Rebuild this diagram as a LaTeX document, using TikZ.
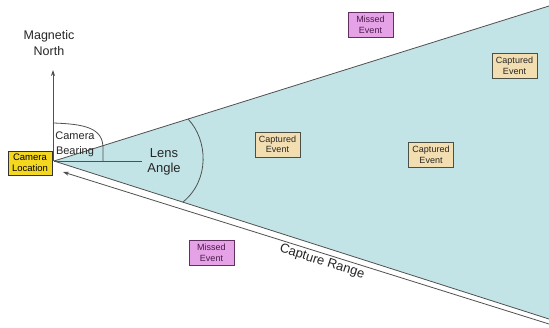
\documentclass[tikz,border=0pt]{standalone}
\usepackage{fontspec}
\setmainfont{Liberation Sans}
\usetikzlibrary{arrows.meta}
\definecolor{conefill}{HTML}{C3E4E6}
\definecolor{captfill}{HTML}{F2DEB0}
\definecolor{captedge}{HTML}{4A5046}
\definecolor{missfill}{HTML}{E6A2E6}
\definecolor{missedge}{HTML}{603060}
\definecolor{misstext}{HTML}{4A1A4A}
\definecolor{locfill}{HTML}{F4D820}
\definecolor{edgegray}{HTML}{505050}
\tikzset{
  evtbox/.style={draw=#1, line width=0.9pt, minimum width=45pt, minimum height=25pt,
    inner sep=0pt, align=center, font=\fontsize{9}{10.5}\selectfont},
  captured/.style={evtbox=captedge, fill=captfill, text=black!85},
  missed/.style={evtbox=missedge, fill=missfill, text=misstext},
  locbox/.style={draw=black!80, line width=0.9pt, fill=locfill, minimum width=44pt,
    minimum height=24pt, inner sep=0pt, align=center, font=\fontsize{9.5}{11}\selectfont},
  label/.style={align=center, text=black!85},
  gline/.style={draw=edgegray, line width=0.8pt},
}
\begin{document}
\begin{tikzpicture}[x=1pt,y=-1pt]
\useasboundingbox (0,0) rectangle (549,327);
\fill[white] (0,0) rectangle (549,327);
% coordinates
\coordinate (apex) at (54,161);
\coordinate (ur) at (549,6);
\coordinate (lr) at (549,319);
\coordinate (ntop) at (53,70);
\coordinate (hend) at (142,161);
\coordinate (crs) at (549,324);
\coordinate (cre) at (63,172);
% cone
\fill[conefill] (apex) -- (ur) -- (lr) -- cycle;
\draw[gline] (apex) -- (ur);
\draw[gline] (apex) -- (lr);
% capture range arrow
\draw[gline, -{Stealth[length=6pt,width=4pt]}] (crs) -- (cre);
% north arrow
\draw[gline, -{Stealth[length=6pt,width=4pt]}] (53,161) -- (ntop);
% horizontal bearing line
\draw[gline] (apex) -- (hend);
% bearing arc
\draw[gline] (53,123) .. controls (85,124) and (103,128) .. (103,148) -- (103,161);
% lens angle arc
\draw[gline] (188,119) .. controls (208,140) and (210,180) .. (183,202);
% nodes
\node[locbox] (loc) at (30,163) {Camera\\Location};
\node[label, font=\fontsize{12.5}{16}\selectfont] (north) at (49,43) {Magnetic\\North};
\node[label, font=\fontsize{11}{15}\selectfont] (bearing) at (75,144) {Camera\\Bearing};
\node[label, font=\fontsize{13}{14.5}\selectfont] (lens) at (164,162) {Lens\\Angle};
\node[label, font=\fontsize{13}{15}\selectfont, rotate=-17.6, inner sep=0pt] (range) at (322,262) {Capture Range};
\node[missed] (m1) at (370.5,25) {Missed\\Event};
\node[missed] (m2) at (211.5,253) {Missed\\Event};
\node[captured] (c1) at (277.5,144.5) {Captured\\Event};
\node[captured] (c2) at (431,155) {Captured\\Event};
\node[captured] (c3) at (514.5,66) {Captured\\Event};
\end{tikzpicture}
\end{document}
